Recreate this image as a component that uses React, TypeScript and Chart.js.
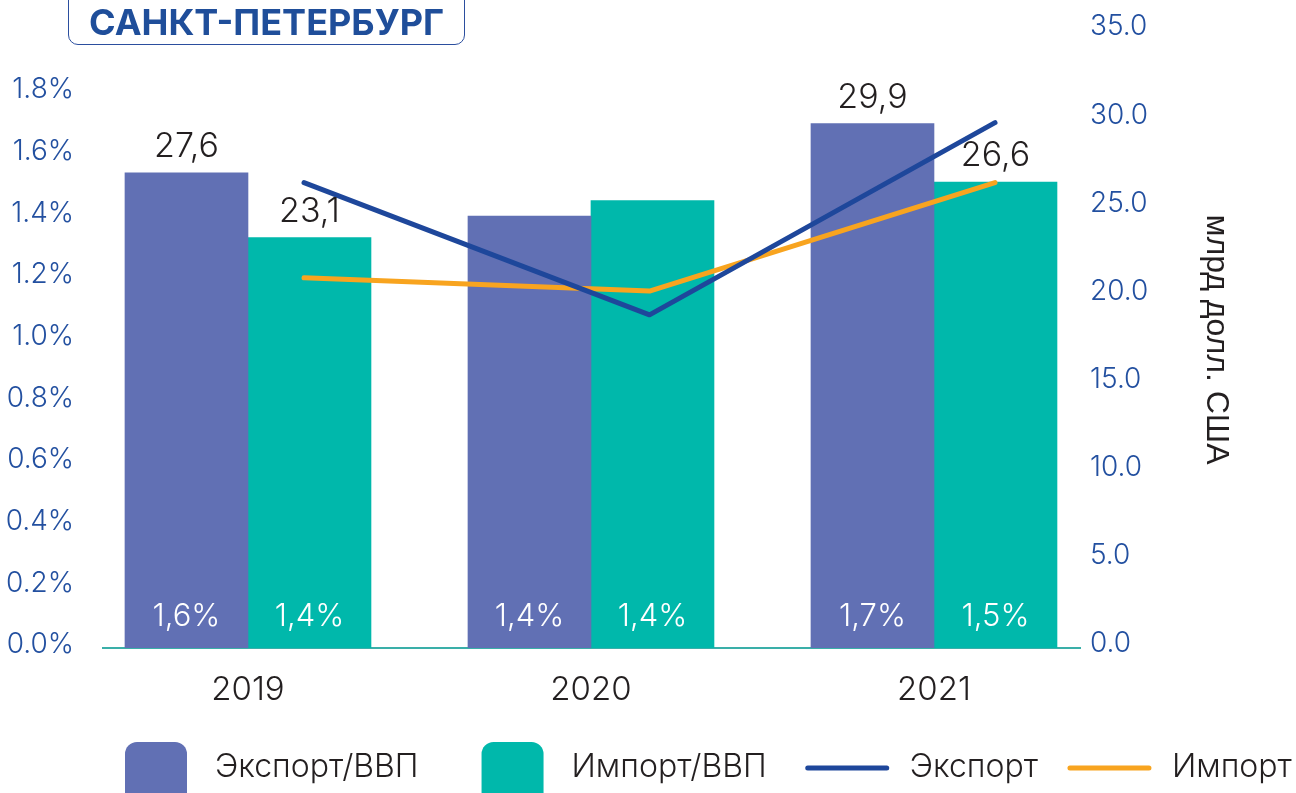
import React, { useEffect, useRef } from 'react';
import { Chart, registerables } from 'chart.js';

Chart.register(...registerables);

// ---- data ----
const years = ['2019', '2020', '2021'];
const exportGdp = [1.54, 1.4, 1.7]; // % of GDP (bars, left axis)
const importGdp = [1.33, 1.45, 1.51];
const exportGdpLabels = ['1,6%', '1,4%', '1,7%'];
const importGdpLabels = ['1,4%', '1,4%', '1,5%'];
const exportBn = [26.4, 18.9, 29.8]; // bn USD (lines, right axis)
const importBn = [21.0, 20.25, 26.4];
const exportTopLabels = ['27,6', '', '29,9'];
const importTopLabels = ['23,1', '', '26,6'];

// ---- styles ----
const C_EXP_BAR = '#6170b4';
const C_IMP_BAR = '#00b8ab';
const C_EXP_LINE = '#1e479b';
const C_IMP_LINE = '#f8a41f';
const C_AXIS = '#3aafa9';
const C_TICK = '#2350a0';
const C_TEXT = '#231f20';
const FONT = 'Inter';
const LEGEND_GAPS = [63, 39, 30];

const barLabelPlugin = {
  id: 'barLabels',
  afterDatasetsDraw(chart: any) {
    const ctx = chart.ctx;
    const sets: [number, string[], string[]][] = [
      [0, exportGdpLabels, exportTopLabels],
      [1, importGdpLabels, importTopLabels],
    ];
    ctx.save();
    ctx.textAlign = 'center';
    ctx.textBaseline = 'middle';
    for (const [di, inner, top] of sets) {
      const meta = chart.getDatasetMeta(di);
      meta.data.forEach((bar: any, i: number) => {
        ctx.font = `300 31px ${FONT}`;
        ctx.fillStyle = '#ffffff';
        ctx.fillText(inner[i], bar.x, bar.base - 31);
        if (top[i]) {
          ctx.font = `300 34px ${FONT}`;
          ctx.fillStyle = C_TEXT;
          ctx.fillText(top[i], bar.x, bar.y - 26);
        }
      });
    }
    ctx.restore();
  },
};

const legendPlugin = {
  id: 'customLegend',
  afterDraw(chart: any) {
    const ctx = chart.ctx;
    const yMid = 768;
    let x = 125;
    ctx.save();
    ctx.font = `300 32px ${FONT}`;
    ctx.textBaseline = 'middle';
    ctx.textAlign = 'left';
    chart.data.datasets.forEach((ds: any, k: number) => {
      const isBar = ds.type === 'bar';
      if (isBar) {
        ctx.fillStyle = ds.backgroundColor;
        ctx.beginPath();
        (ctx as any).roundRect(x, yMid - 26, 62, 62, 12);
        ctx.fill();
        x += 62 + 28;
      } else {
        ctx.strokeStyle = ds.borderColor;
        ctx.lineWidth = 5;
        ctx.lineCap = 'round';
        ctx.beginPath();
        ctx.moveTo(x + 2, yMid);
        ctx.lineTo(x + 81, yMid);
        ctx.stroke();
        x += 83 + 21;
      }
      ctx.fillStyle = C_TEXT;
      ctx.fillText(ds.label, x, yMid - 1);
      x += ctx.measureText(ds.label).width + (LEGEND_GAPS[k] || 0);
    });
    ctx.restore();
  },
};

const noPadY = (w: number) => (s: any) => {
  s.width = w;
  s.paddingTop = 0;
  s.paddingBottom = 0;
};

const hiddenX = (min: number, max: number) => ({
  type: 'linear',
  offset: false,
  min,
  max,
  display: false,
  grid: { offset: false },
});

export default function App() {
  const ref = useRef<HTMLCanvasElement>(null);

  useEffect(() => {
    document.body.style.margin = '0';
    const chart = new Chart(ref.current as HTMLCanvasElement, {
      type: 'bar',
      data: {
        datasets: [
          {
            type: 'bar',
            label: 'Экспорт/ВВП',
            data: exportGdp.map((y, i) => ({ x: i, y })),
            backgroundColor: C_EXP_BAR,
            xAxisID: 'xExp',
            yAxisID: 'y',
            grouped: false,
            barThickness: 123,
            order: 2,
          },
          {
            type: 'bar',
            label: 'Импорт/ВВП',
            data: importGdp.map((y, i) => ({ x: i, y })),
            backgroundColor: C_IMP_BAR,
            xAxisID: 'xImp',
            yAxisID: 'y',
            grouped: false,
            barThickness: 123,
            order: 2,
          },
          {
            type: 'line',
            label: 'Экспорт',
            data: exportBn.map((y, i) => ({ x: i, y })),
            borderColor: C_EXP_LINE,
            backgroundColor: C_EXP_LINE,
            borderWidth: 5,
            borderCapStyle: 'round',
            borderJoinStyle: 'round',
            pointRadius: 0,
            tension: 0,
            xAxisID: 'xLine',
            yAxisID: 'y1',
            order: 0,
          },
          {
            type: 'line',
            label: 'Импорт',
            data: importBn.map((y, i) => ({ x: i, y })),
            borderColor: C_IMP_LINE,
            backgroundColor: C_IMP_LINE,
            borderWidth: 5,
            borderCapStyle: 'round',
            borderJoinStyle: 'round',
            pointRadius: 0,
            tension: 0,
            xAxisID: 'xLine',
            yAxisID: 'y1',
            order: 1,
          },
        ] as any,
      },
      options: {
        responsive: false,
        animation: false,
        layout: { padding: { top: 31, left: 0, right: 0, bottom: 0 } },
        plugins: { legend: { display: false }, tooltip: { enabled: false } },
        scales: {
          x: {
            type: 'linear',
            offset: false,
            min: -0.4227,
            max: 2.4257,
            grid: { display: false, drawTicks: false, offset: false },
            border: { display: true, color: C_AXIS, width: 2 },
            ticks: {
              stepSize: 1,
              includeBounds: false,
              padding: 22,
              color: C_TEXT,
              font: { family: FONT, size: 33, weight: '300' },
              callback: (v: any) => (Number.isInteger(v) ? years[v] : ''),
            },
            afterFit: (s: any) => {
              s.height = 145;
              s.paddingLeft = 0;
              s.paddingRight = 0;
            },
          },
          xExp: hiddenX(-0.2434, 2.605),
          xImp: hiddenX(-0.602, 2.2464),
          xLine: hiddenX(-0.5818, 2.246),
          y: {
            position: 'left',
            min: 0,
            max: 2,
            grid: { display: false, drawTicks: false },
            border: { display: false },
            ticks: {
              stepSize: 0.2,
              padding: 29,
              labelOffset: -3,
              color: C_TICK,
              font: { family: FONT, size: 28, weight: '300' },
              callback: (v: any) => (v > 1.99 ? '' : Number(v).toFixed(1) + '%'),
            },
            afterFit: noPadY(103),
          },
          y1: {
            position: 'right',
            min: 0,
            max: 35,
            grid: { display: false, drawTicks: false },
            border: { display: false },
            ticks: {
              stepSize: 5,
              padding: 10,
              labelOffset: -4,
              color: C_TICK,
              font: { family: FONT, size: 28, weight: '300' },
              callback: (v: any) => Number(v).toFixed(1),
            },
            title: {
              display: true,
              text: 'млрд долл. США',
              color: C_TEXT,
              font: { family: 'Liberation Sans', size: 32, weight: '400' },
              padding: { top: 61, bottom: 0 },
            },
            afterFit: noPadY(216),
          },
        },
      } as any,
      plugins: [barLabelPlugin, legendPlugin],
    });
    return () => chart.destroy();
  }, []);

  return (
    <div style={{ position: 'relative', width: 1296, height: 793, overflow: 'hidden', background: '#fff' }}>
      <canvas ref={ref} width={1296} height={793} style={{ position: 'absolute', left: 0, top: 0 }} />
      <div
        style={{
          position: 'absolute',
          left: 68,
          top: -12,
          width: 397,
          height: 57,
          boxSizing: 'border-box',
          border: '1.5px solid #2b4e9e',
          borderRadius: 10,
        }}
      />
      <div
        style={{
          position: 'absolute',
          left: 68,
          top: 0,
          width: 397,
          height: 44,
          lineHeight: '44px',
          textAlign: 'center',
          fontFamily: 'Inter, Roboto, sans-serif',
          fontWeight: 700,
          fontSize: 36,
          color: '#1f4e9a',
          whiteSpace: 'nowrap',
        }}
      >
        САНКТ-ПЕТЕРБУРГ
      </div>
    </div>
  );
}
